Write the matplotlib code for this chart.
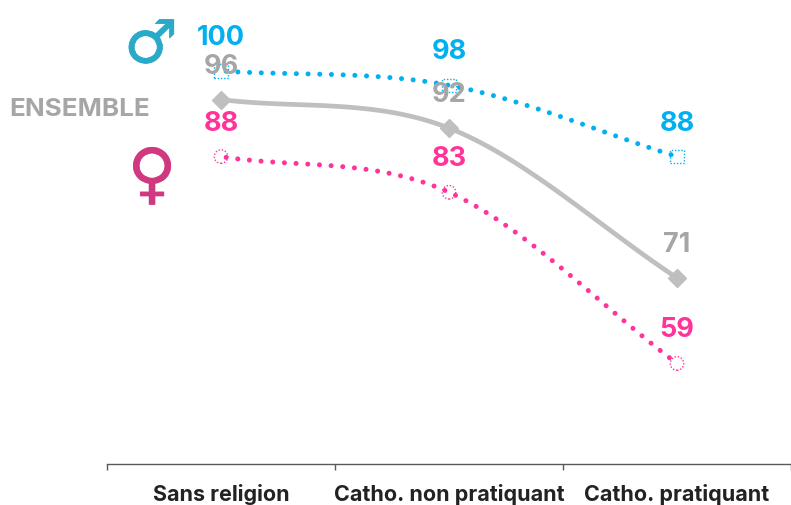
import numpy as np
import matplotlib
matplotlib.use("Agg")
import matplotlib.pyplot as plt
import matplotlib.patheffects as pe
from matplotlib.ticker import FixedLocator, NullFormatter

categories = ["Sans religion", "Catho. non pratiquant", "Catho. pratiquant"]
hommes = [100, 98, 88]
ensemble = [96, 92, 71]
femmes = [88, 83, 59]

BLUE = "#00B0F0"
GREY = "#BFBFBF"
GREY_TXT = "#A6A6A6"
PINK = "#FF3399"
FONT = "Inter"


def smooth(x, y, n=60):
    """Excel-like smoothed line through the points."""
    x = np.asarray(x, float)
    y = np.asarray(y, float)
    m = np.gradient(y, x)
    xs, ys = [], []
    for i in range(len(x) - 1):
        t = np.linspace(0, 1, n)
        h = x[i + 1] - x[i]
        xs.append(x[i] + t * h)
        ys.append((2*t**3 - 3*t**2 + 1) * y[i] + (t**3 - 2*t**2 + t) * h * m[i]
                  + (-2*t**3 + 3*t**2) * y[i + 1] + (t**3 - t**2) * h * m[i + 1])
    return np.concatenate(xs), np.concatenate(ys)


fig = plt.figure(figsize=(7.91, 5.06), dpi=100)
ax = fig.add_axes([107 / 791, 41 / 506, 684 / 791, 465 / 506])
pos = np.arange(len(categories)) + 0.5
ax.set_xlim(0, 3)
ax.set_ylim(44.9, 110.1)

sx, sy = smooth(pos, ensemble)
ax.plot(sx, sy, color=GREY, lw=3.4, solid_capstyle="round", zorder=2)
ax.plot(pos, ensemble, linestyle="none", marker="D", ms=9, color=GREY, mec=GREY, zorder=3)

for vals, col, mk in [(hommes, BLUE, "s"), (femmes, PINK, "o")]:
    sx, sy = smooth(pos, vals)
    ax.plot(sx, sy, color=col, lw=3.6, linestyle=(1.3, (0.01, 2.33)), dash_capstyle="round", zorder=2)
    ax.scatter(pos, vals, marker=mk, s=95, facecolors="none", edgecolors=col,
               linewidths=1, linestyles=(0, (1, 1.3)), zorder=3)

offset = 34
for vals, col in [(hommes, BLUE), (ensemble, GREY_TXT), (femmes, PINK)]:
    for p, v in zip(pos, vals):
        ax.annotate(str(v), (p, v), xytext=(0, offset), textcoords="offset pixels", ha="center", va="center",
                    color=col, fontsize=19.5, fontweight="bold", family=FONT, zorder=4)

fig.text(80 / 791, 1 - 109 / 506, "ENSEMBLE", ha="center", va="center", color=GREY_TXT,
         fontsize=18.7, fontweight="bold", family=FONT)
stroke = 0.5
fig.text(151 / 791, 1 - 47 / 506, "\u2642", ha="center", va="center", color="#2AA9C9",
         fontsize=43, fontweight="bold", family="DejaVu Sans",
         path_effects=[pe.withStroke(linewidth=stroke, foreground="#2AA9C9")])
fig.text(152 / 791, 1 - 178 / 506, "\u2640", ha="center", va="center", color="#D0387F",
         fontsize=48, fontweight="bold", family="DejaVu Sans",
         path_effects=[pe.withStroke(linewidth=stroke, foreground="#D0387F")])

for s in ["top", "left", "right"]:
    ax.spines[s].set_visible(False)
ax.spines["bottom"].set_color("#595959")
ax.spines["bottom"].set_linewidth(1)
ax.yaxis.set_visible(False)
ax.xaxis.set_major_locator(FixedLocator([0, 1, 2, 3]))
ax.xaxis.set_major_formatter(NullFormatter())
ax.xaxis.set_minor_locator(FixedLocator(pos))
ax.set_xticklabels(categories, minor=True, fontsize=15.5, fontweight="bold", family=FONT, color="#222222")
ax.tick_params(axis="x", which="major", length=4.5, width=1, color="#595959")
ax.tick_params(axis="x", which="minor", length=0, pad=14)
ax.patch.set_visible(False)
fig.savefig("out.png", dpi=100)
